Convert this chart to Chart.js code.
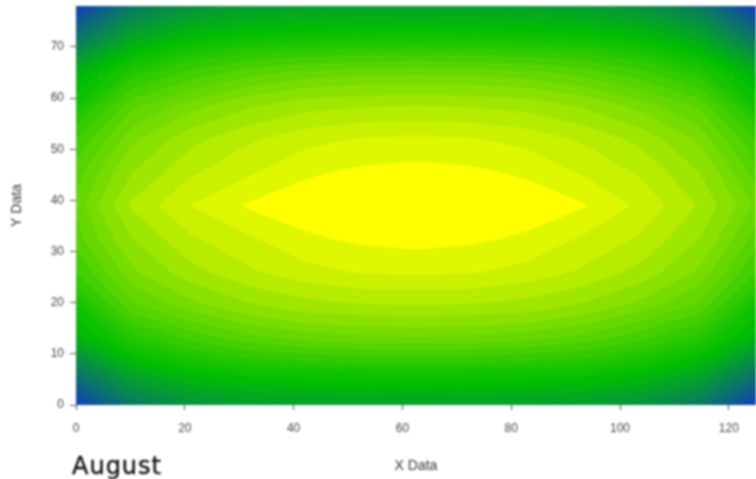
<!DOCTYPE html>
<html>
<head>
<meta charset="utf-8">
<script src="https://cdn.jsdelivr.net/npm/chart.js@4"></script>
<style>
    html, body { margin: 0; background: #fff; }
    #wrap { position: relative; width: 756px; height: 479px; filter: blur(0.8px); }
    #month { position: absolute; left: 72px; top: 452px; font: 24px "DejaVu Sans"; letter-spacing: 1px; color: #111; -webkit-text-stroke: 0.4px #111; }
</style>
</head>
<body>
<div id="wrap">
    <canvas id="myChart" width="756" height="479"></canvas>
    <div id="month">August</div>
</div>
<script>
const xValues = [0, 10.4, 20.8, 31.3, 41.7, 52.1, 62.5, 72.9, 83.3, 93.7, 104.2, 114.6, 125];
const yValues = [0, 6.5, 13, 19.5, 26, 32.5, 39, 45.5, 52, 58.5, 65, 71.5, 78];

// z, one row for each y value
const row0 = [3, 20, 27, 30, 31, 31, 31, 31, 31, 30, 27, 20, 3];
const row1 = [20, 34, 40, 43, 44, 44.5, 45, 44.5, 44, 43, 40, 34, 20];
const row2 = [36, 48, 55, 60, 63, 64.5, 65, 64.5, 63, 60, 55, 48, 36];
const row3 = [44, 61, 68, 74, 78, 79.5, 80, 79.5, 78, 74, 68, 61, 44];
const row4 = [54, 69, 78, 84, 88, 90.5, 91, 90.5, 88, 84, 78, 69, 54];
const row5 = [60, 75, 84, 89, 94, 96, 97, 96, 94, 89, 84, 75, 60];
const row6 = [63, 81, 90, 95.5, 98, 99.5, 100, 99.5, 98, 95.3, 88.5, 79.5, 65];
const row7 = [60, 75, 84, 89, 94, 96, 97, 96, 94, 89, 84, 75, 60];
const row8 = [54, 69, 78, 84, 88, 90.5, 91, 90.5, 88, 84, 78, 69, 54];
const row9 = [44, 61, 68, 74, 78, 79.5, 80, 79.5, 78, 74, 68, 61, 44];
const row10 = [36, 48, 55, 60, 63, 64.5, 65, 64.5, 63, 60, 55, 48, 36];
const row11 = [20, 34, 40, 43, 44, 44.5, 45, 44.5, 44, 43, 40, 34, 20];
const row12 = [3, 20, 27, 30, 31, 31, 31, 31, 31, 30, 27, 20, 3];
const zRows = [row0, row1, row2, row3, row4, row5, row6, row7, row8, row9, row10, row11, row12];

const levels = [95, 90, 85, 80, 75, 70, 66, 62, 58, 54, 50, 47, 44, 41, 38, 35, 32, 29, 26, 23, 20, 17, 14, 11, 8, 5, 0];
const xTicks = [0, 20, 40, 60, 80, 100, 120];
const yTicks = [0, 10, 20, 30, 40, 50, 60, 70];

const bandColor = (z) => {
    if (z >= 40) {
        const t = (z - 40) / 60;
        return `rgb(${Math.round(255 * t)},${Math.round(190 + 65 * t)},0)`;
    }
    const t = z / 40;
    return `rgb(${Math.round(20 * (1 - t))},${Math.round(50 + 140 * t)},${Math.round(200 * (1 - t))})`;
}

// outline of z >= level, the shapes all surround the peak so sorting by angle closes them
const contourPoints = (level) => {
    const pts = [];
    const cross = (i1, j1, i2, j2) => {
        const a = zRows[j1][i1];
        const b = zRows[j2][i2];
        if ((a < level) !== (b < level)) {
            const t = (level - a) / (b - a);
            pts.push({
                x: xValues[i1] + t * (xValues[i2] - xValues[i1]),
                y: yValues[j1] + t * (yValues[j2] - yValues[j1])
            });
        }
    }
    const lastI = xValues.length - 1;
    const lastJ = yValues.length - 1;
    for (let j = 0; j <= lastJ; j++) {
        for (let i = 0; i <= lastI; i++) {
            if (i < lastI) cross(i, j, i + 1, j);
            if (j < lastJ) cross(i, j, i, j + 1);
            const onEdge = i === 0 || j === 0 || i === lastI || j === lastJ;
            if (onEdge && zRows[j][i] >= level) pts.push({ x: xValues[i], y: yValues[j] });
        }
    }
    const ang = (p) => Math.atan2(p.y - yValues[6], p.x - xValues[6]);
    pts.sort((p, q) => ang(p) - ang(q));
    pts.push(pts[0]);
    return pts;
}

const datasets = levels.map((level, i) => ({
    data: contourPoints(level),
    showLine: true,
    fill: "shape",
    backgroundColor: bandColor(i === 0 ? 100 : (level + levels[i - 1]) / 2),
    borderWidth: 0,
    pointRadius: 0,
    tension: 0
}));

const tickFont = { family: "Liberation Sans", size: 12 };
const titleFont = { family: "Liberation Sans", size: 14 };

const ctx = document.getElementById("myChart").getContext("2d");
const myChart = new Chart(ctx, {
    type: "scatter",
    data: { datasets: datasets },
    options: {
        responsive: false,
        animation: false,
        layout: { padding: { top: 0, right: 0, left: 0, bottom: 0 } },
        plugins: {
            legend: { display: false },
            tooltip: { enabled: false }
        },
        scales: {
            x: {
                min: 0,
                max: 125,
                afterBuildTicks: (axis) => { axis.ticks = xTicks.map((v) => ({ value: v })) },
                afterFit: (axis) => { axis.height = 74; axis.paddingTop = 6 },
                border: { display: false },
                grid: { drawOnChartArea: false, tickLength: 5, color: "#555" },
                ticks: { color: "#444", font: tickFont, maxRotation: 0, padding: 11 },
                title: { display: true, text: "X Data", color: "#333", font: titleFont, padding: { top: 17 } }
            },
            y: {
                min: 0,
                max: 78,
                afterBuildTicks: (axis) => { axis.ticks = yTicks.map((v) => ({ value: v })) },
                afterFit: (axis) => { axis.width = 76; axis.paddingTop = 6; axis.paddingBottom = 0 },
                border: { display: false },
                grid: { drawOnChartArea: false, tickLength: 6, color: "#555" },
                ticks: { color: "#444", font: tickFont, padding: 6 },
                title: { display: true, text: "Y Data", color: "#333", font: titleFont, padding: { top: 9, bottom: 0 } }
            }
        }
    }
});
</script>
</body>
</html>
